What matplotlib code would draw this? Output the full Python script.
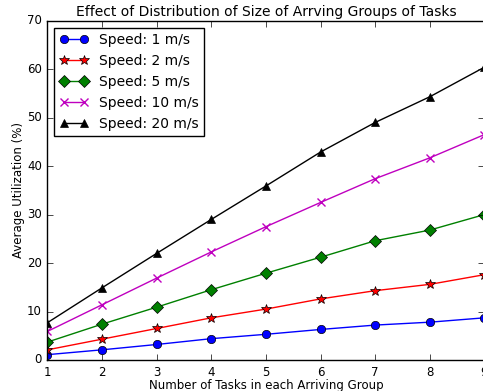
import matplotlib
matplotlib.use("Agg")
import matplotlib.pyplot as plt

plt.style.use("classic")

group_sizes = [1, 2, 3, 4, 5, 6, 7, 8, 9]
speed_1 = [1.1, 2.1, 3.2, 4.4, 5.3, 6.3, 7.2, 7.8, 8.7]
speed_2 = [2.1, 4.3, 6.5, 8.7, 10.5, 12.6, 14.3, 15.6, 17.6]
speed_5 = [3.7, 7.4, 10.9, 14.5, 17.9, 21.2, 24.6, 26.8, 30.0]
speed_10 = [5.9, 11.4, 16.9, 22.3, 27.5, 32.5, 37.4, 41.7, 46.5]
speed_20 = [7.7, 14.9, 22.0, 29.0, 35.9, 42.9, 49.0, 54.3, 60.4]
labels = ["Speed: 1 m/s", "Speed: 2 m/s", "Speed: 5 m/s",
          "Speed: 10 m/s", "Speed: 20 m/s"]

fig = plt.figure(figsize=(4.83, 3.91), dpi=100, facecolor="white")
ax = fig.add_axes([0.0983, 0.0793, 0.9048, 0.868])

ax.plot(group_sizes, speed_1, color="b", marker="o", mec="k", mew=0.5,
        ms=6, lw=1, label=labels[0])
ax.plot(group_sizes, speed_2, color="r", marker="*", mec="k", mew=0.5,
        ms=7, lw=1, label=labels[1])
ax.plot(group_sizes, speed_5, color="g", marker="D", mec="k", mew=0.5,
        ms=6, lw=1, label=labels[2])
ax.plot(group_sizes, speed_10, color="m", marker="x", mec="m", mew=1,
        ms=6, lw=1, label=labels[3])
ax.plot(group_sizes, speed_20, color="k", marker="^", mec="k", mew=0.5,
        ms=6, lw=1, label=labels[4])

ax.set_xlim(1, 9)
ax.set_ylim(0, 70)
ax.set_xticks(range(1, 10))
ax.set_yticks(range(0, 71, 10))
ax.tick_params(labelsize=8.5)
ax.tick_params(axis="x", pad=4)

ax.set_title("Effect of Distribution of Size of Arrving Groups of Tasks",
             fontsize=10, pad=3.5)
ax.set_xlabel("Number of Tasks in each Arriving Group", fontsize=8.5,
              labelpad=0.5)
ax.set_ylabel("Average Utilization (%)", fontsize=8.5, labelpad=1.5)

leg = ax.legend(loc="upper left", numpoints=2, fontsize=10)
leg.get_frame().set_linewidth(1)

fig.savefig("out.png", dpi=100, facecolor="white")
